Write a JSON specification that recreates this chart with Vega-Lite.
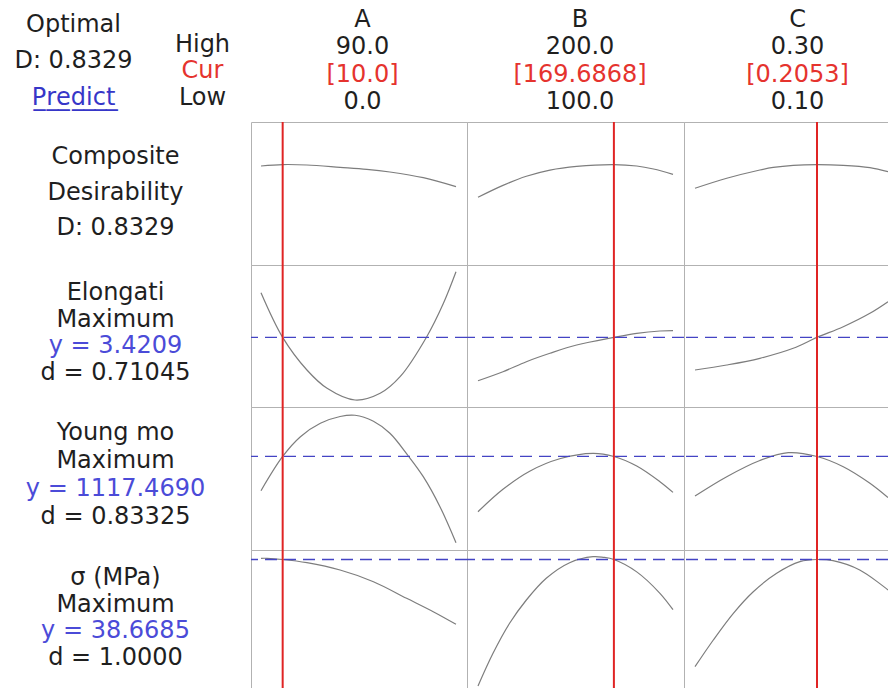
{
  "$schema": "https://vega.github.io/schema/vega-lite/v6.json",
  "padding": 0,
  "spacing": 0,
  "columns": 4,
  "bounds": "flush",
  "background": "white",
  "config": {
    "font": "DejaVu Sans",
    "view": {"stroke": "#b2b2b2", "strokeWidth": 1},
    "concat": {"spacing": 0},
    "text": {"font": "DejaVu Sans", "fontSize": 24, "baseline": "middle"},
    "line": {"color": "#7d7d7d", "strokeWidth": 1.2, "interpolate": "catmull-rom", "clip": true}
  },
  "datasets": {
    "header": [
      {"panel": "status", "line": 1, "text": "Optimal", "role": "label"},
      {"panel": "status", "line": 2, "text": "D: 0.8329", "role": "label"},
      {"panel": "status", "line": 3, "text": "P\u0332r\u0332e\u0332d\u0332i\u0332c\u0332t\u0332", "role": "link"},
      {"panel": "bounds", "line": 1, "text": "High", "role": "label"},
      {"panel": "bounds", "line": 2, "text": "Cur", "role": "current"},
      {"panel": "bounds", "line": 3, "text": "Low", "role": "label"},
      {"panel": "A", "line": 1, "text": "A", "role": "label"},
      {"panel": "A", "line": 2, "text": "90.0", "role": "label"},
      {"panel": "A", "line": 3, "text": "[10.0]", "role": "current"},
      {"panel": "A", "line": 4, "text": "0.0", "role": "label"},
      {"panel": "B", "line": 1, "text": "B", "role": "label"},
      {"panel": "B", "line": 2, "text": "200.0", "role": "label"},
      {"panel": "B", "line": 3, "text": "[169.6868]", "role": "current"},
      {"panel": "B", "line": 4, "text": "100.0", "role": "label"},
      {"panel": "C", "line": 1, "text": "C", "role": "label"},
      {"panel": "C", "line": 2, "text": "0.30", "role": "label"},
      {"panel": "C", "line": 3, "text": "[0.2053]", "role": "current"},
      {"panel": "C", "line": 4, "text": "0.10", "role": "label"}
    ],
    "labels": [
      {"response": "Composite", "line": 1, "text": "Composite", "role": "label"},
      {"response": "Composite", "line": 2, "text": "Desirability", "role": "label"},
      {"response": "Composite", "line": 3, "text": "D: 0.8329", "role": "label"},
      {"response": "Elongati", "line": 1, "text": "Elongati", "role": "label"},
      {"response": "Elongati", "line": 2, "text": "Maximum", "role": "label"},
      {"response": "Elongati", "line": 3, "text": "y = 3.4209", "role": "predicted"},
      {"response": "Elongati", "line": 4, "text": "d = 0.71045", "role": "label"},
      {"response": "Young mo", "line": 1, "text": "Young mo", "role": "label"},
      {"response": "Young mo", "line": 2, "text": "Maximum", "role": "label"},
      {"response": "Young mo", "line": 3, "text": "y = 1117.4690", "role": "predicted"},
      {"response": "Young mo", "line": 4, "text": "d = 0.83325", "role": "label"},
      {"response": "σ (MPa)", "line": 1, "text": "σ (MPa)", "role": "label"},
      {"response": "σ (MPa)", "line": 2, "text": "Maximum", "role": "label"},
      {"response": "σ (MPa)", "line": 3, "text": "y = 38.6685", "role": "predicted"},
      {"response": "σ (MPa)", "line": 4, "text": "d = 1.0000", "role": "label"}
    ],
    "settings": [
      {"factor": "A", "current": 10.0},
      {"factor": "B", "current": 169.6868},
      {"factor": "C", "current": 0.2053}
    ],
    "responses": [
      {"response": "Elongati", "optimum": 3.4209},
      {"response": "Young mo", "optimum": 1117.469},
      {"response": "σ (MPa)", "optimum": 38.6685}
    ],
    "curves": [
      {"response": "Composite", "factor": "A", "level": 0, "value": 0.8246},
      {"response": "Composite", "factor": "A", "level": 10, "value": 0.8329},
      {"response": "Composite", "factor": "A", "level": 21.2, "value": 0.8304},
      {"response": "Composite", "factor": "A", "level": 36.5, "value": 0.8171},
      {"response": "Composite", "factor": "A", "level": 48.8, "value": 0.8055},
      {"response": "Composite", "factor": "A", "level": 59.5, "value": 0.7898},
      {"response": "Composite", "factor": "A", "level": 74.9, "value": 0.7567},
      {"response": "Composite", "factor": "A", "level": 90, "value": 0.7045},
      {"response": "Composite", "factor": "B", "level": 100, "value": 0.643},
      {"response": "Composite", "factor": "B", "level": 112.8, "value": 0.712},
      {"response": "Composite", "factor": "B", "level": 124.8, "value": 0.765},
      {"response": "Composite", "factor": "B", "level": 136.9, "value": 0.801},
      {"response": "Composite", "factor": "B", "level": 150.6, "value": 0.8225},
      {"response": "Composite", "factor": "B", "level": 169.6868, "value": 0.8329},
      {"response": "Composite", "factor": "B", "level": 181.4, "value": 0.8246},
      {"response": "Composite", "factor": "B", "level": 190, "value": 0.807},
      {"response": "Composite", "factor": "B", "level": 200, "value": 0.7764},
      {"response": "Composite", "factor": "C", "level": 0.1, "value": 0.6952},
      {"response": "Composite", "factor": "C", "level": 0.1274, "value": 0.7533},
      {"response": "Composite", "factor": "C", "level": 0.156, "value": 0.8014},
      {"response": "Composite", "factor": "C", "level": 0.1675, "value": 0.8165},
      {"response": "Composite", "factor": "C", "level": 0.1848, "value": 0.8287},
      {"response": "Composite", "factor": "C", "level": 0.2053, "value": 0.8329},
      {"response": "Composite", "factor": "C", "level": 0.228, "value": 0.8287},
      {"response": "Composite", "factor": "C", "level": 0.251, "value": 0.815},
      {"response": "Composite", "factor": "C", "level": 0.2666, "value": 0.7916},
      {"response": "Elongati", "factor": "A", "level": 0, "value": 4.5375},
      {"response": "Elongati", "factor": "A", "level": 10, "value": 3.4209},
      {"response": "Elongati", "factor": "A", "level": 21.2, "value": 2.605},
      {"response": "Elongati", "factor": "A", "level": 30.5, "value": 2.1475},
      {"response": "Elongati", "factor": "A", "level": 43.4, "value": 1.855},
      {"response": "Elongati", "factor": "A", "level": 55, "value": 2.0225},
      {"response": "Elongati", "factor": "A", "level": 64.2, "value": 2.4375},
      {"response": "Elongati", "factor": "A", "level": 76.5, "value": 3.4375},
      {"response": "Elongati", "factor": "A", "level": 84.2, "value": 4.2725},
      {"response": "Elongati", "factor": "A", "level": 90, "value": 5.06},
      {"response": "Elongati", "factor": "B", "level": 100, "value": 2.3375},
      {"response": "Elongati", "factor": "B", "level": 112.8, "value": 2.5625},
      {"response": "Elongati", "factor": "B", "level": 124.8, "value": 2.8125},
      {"response": "Elongati", "factor": "B", "level": 136.9, "value": 3.0225},
      {"response": "Elongati", "factor": "B", "level": 150.6, "value": 3.23},
      {"response": "Elongati", "factor": "B", "level": 169.6868, "value": 3.4209},
      {"response": "Elongati", "factor": "B", "level": 181.4, "value": 3.5225},
      {"response": "Elongati", "factor": "B", "level": 193.3, "value": 3.58},
      {"response": "Elongati", "factor": "B", "level": 200, "value": 3.5875},
      {"response": "Elongati", "factor": "C", "level": 0.1, "value": 2.605},
      {"response": "Elongati", "factor": "C", "level": 0.1274, "value": 2.73},
      {"response": "Elongati", "factor": "C", "level": 0.156, "value": 2.8975},
      {"response": "Elongati", "factor": "C", "level": 0.1848, "value": 3.1475},
      {"response": "Elongati", "factor": "C", "level": 0.2053, "value": 3.4209},
      {"response": "Elongati", "factor": "C", "level": 0.228, "value": 3.6875},
      {"response": "Elongati", "factor": "C", "level": 0.251, "value": 4.0225},
      {"response": "Elongati", "factor": "C", "level": 0.2666, "value": 4.3125},
      {"response": "Young mo", "factor": "A", "level": 0, "value": 973.8},
      {"response": "Young mo", "factor": "A", "level": 10, "value": 1117.469},
      {"response": "Young mo", "factor": "A", "level": 18.2, "value": 1200.4},
      {"response": "Young mo", "factor": "A", "level": 27.4, "value": 1256.6},
      {"response": "Young mo", "factor": "A", "level": 36.5, "value": 1285.2},
      {"response": "Young mo", "factor": "A", "level": 43.4, "value": 1290.4},
      {"response": "Young mo", "factor": "A", "level": 51.9, "value": 1265.3},
      {"response": "Young mo", "factor": "A", "level": 59.5, "value": 1214.7},
      {"response": "Young mo", "factor": "A", "level": 68, "value": 1119.4},
      {"response": "Young mo", "factor": "A", "level": 74.9, "value": 1032.6},
      {"response": "Young mo", "factor": "A", "level": 82.6, "value": 906.7},
      {"response": "Young mo", "factor": "A", "level": 90, "value": 755.6},
      {"response": "Young mo", "factor": "B", "level": 100, "value": 885.7},
      {"response": "Young mo", "factor": "B", "level": 112.8, "value": 979.7},
      {"response": "Young mo", "factor": "B", "level": 126.5, "value": 1055.7},
      {"response": "Young mo", "factor": "B", "level": 141.9, "value": 1107.8},
      {"response": "Young mo", "factor": "B", "level": 159, "value": 1130.7},
      {"response": "Young mo", "factor": "B", "level": 169.6868, "value": 1117.469},
      {"response": "Young mo", "factor": "B", "level": 181.4, "value": 1077.4},
      {"response": "Young mo", "factor": "B", "level": 193.3, "value": 1011.6},
      {"response": "Young mo", "factor": "B", "level": 200, "value": 966.7},
      {"response": "Young mo", "factor": "C", "level": 0.1, "value": 951.6},
      {"response": "Young mo", "factor": "C", "level": 0.1274, "value": 1032.6},
      {"response": "Young mo", "factor": "C", "level": 0.156, "value": 1100.6},
      {"response": "Young mo", "factor": "C", "level": 0.1805, "value": 1133.3},
      {"response": "Young mo", "factor": "C", "level": 0.2053, "value": 1117.469},
      {"response": "Young mo", "factor": "C", "level": 0.228, "value": 1074.5},
      {"response": "Young mo", "factor": "C", "level": 0.251, "value": 1004.9},
      {"response": "Young mo", "factor": "C", "level": 0.2666, "value": 944.8},
      {"response": "σ (MPa)", "factor": "A", "level": 0, "value": 38.84},
      {"response": "σ (MPa)", "factor": "A", "level": 2.8, "value": 38.84},
      {"response": "σ (MPa)", "factor": "A", "level": 10, "value": 38.6685},
      {"response": "σ (MPa)", "factor": "A", "level": 21.2, "value": 38.224},
      {"response": "σ (MPa)", "factor": "A", "level": 36.5, "value": 37.203},
      {"response": "σ (MPa)", "factor": "A", "level": 51.9, "value": 35.566},
      {"response": "σ (MPa)", "factor": "A", "level": 67.2, "value": 33.245},
      {"response": "σ (MPa)", "factor": "A", "level": 79.5, "value": 31.371},
      {"response": "σ (MPa)", "factor": "A", "level": 90, "value": 29.608},
      {"response": "σ (MPa)", "factor": "B", "level": 100, "value": 20.979},
      {"response": "σ (MPa)", "factor": "B", "level": 107.7, "value": 25.552},
      {"response": "σ (MPa)", "factor": "B", "level": 116.2, "value": 29.748},
      {"response": "σ (MPa)", "factor": "B", "level": 124.8, "value": 33.007},
      {"response": "σ (MPa)", "factor": "B", "level": 135, "value": 36.042},
      {"response": "σ (MPa)", "factor": "B", "level": 147, "value": 38.224},
      {"response": "σ (MPa)", "factor": "B", "level": 159, "value": 39.063},
      {"response": "σ (MPa)", "factor": "B", "level": 164.2, "value": 38.979},
      {"response": "σ (MPa)", "factor": "B", "level": 169.6868, "value": 38.6685},
      {"response": "σ (MPa)", "factor": "B", "level": 181.4, "value": 36.941},
      {"response": "σ (MPa)", "factor": "B", "level": 193.3, "value": 33.944},
      {"response": "σ (MPa)", "factor": "B", "level": 200, "value": 31.647},
      {"response": "σ (MPa)", "factor": "C", "level": 0.1, "value": 23.678},
      {"response": "σ (MPa)", "factor": "C", "level": 0.1158, "value": 27.413},
      {"response": "σ (MPa)", "factor": "C", "level": 0.1331, "value": 31.147},
      {"response": "σ (MPa)", "factor": "C", "level": 0.1503, "value": 34.168},
      {"response": "σ (MPa)", "factor": "C", "level": 0.1705, "value": 36.741},
      {"response": "σ (MPa)", "factor": "C", "level": 0.1906, "value": 38.364},
      {"response": "σ (MPa)", "factor": "C", "level": 0.2053, "value": 38.6685},
      {"response": "σ (MPa)", "factor": "C", "level": 0.2191, "value": 38.503},
      {"response": "σ (MPa)", "factor": "C", "level": 0.2422, "value": 37.203},
      {"response": "σ (MPa)", "factor": "C", "level": 0.2666, "value": 34.406}
    ]
  },
  "resolve": {"scale": {"x": "independent", "y": "independent", "color": "independent"}},
  "concat": [
    {
      "width": 251, "height": 122, "view": {"stroke": null},
      "resolve": {"scale": {"y": "independent"}},
      "layer": [
        {
          "data": {"name": "header"},
          "transform": [{"filter": "datum.panel === 'status'"}],
          "mark": {"type": "text", "dx": -52},
          "encoding": {
            "y": {"field": "line", "type": "quantitative", "scale": {"domain": [0.315, 3.658], "reverse": true, "nice": false, "zero": false}, "axis": null},
            "text": {"field": "text"},
            "color": {"field": "role", "type": "nominal", "scale": {"domain": ["label", "current", "predicted", "link"], "range": ["#1f1f1f", "#e5332e", "#4b4bd8", "#3636c8"]}, "legend": null}
          }
        },
        {
          "data": {"name": "header"},
          "transform": [{"filter": "datum.panel === 'bounds'"}],
          "mark": {"type": "text", "dx": 77},
          "encoding": {
            "y": {"field": "line", "type": "quantitative", "scale": {"domain": [-0.698, 3.906], "reverse": true, "nice": false, "zero": false}, "axis": null},
            "text": {"field": "text"},
            "color": {"field": "role", "type": "nominal", "scale": {"domain": ["label", "current", "predicted", "link"], "range": ["#1f1f1f", "#e5332e", "#4b4bd8", "#3636c8"]}, "legend": null}
          }
        }
      ]
    },
    {
      "width": 216, "height": 122, "view": {"stroke": null},
      "data": {"name": "header"},
      "transform": [{"filter": "datum.panel === 'A'"}],
      "mark": {"type": "text", "dx": 3.5},
      "encoding": {
        "y": {"field": "line", "type": "quantitative", "scale": {"domain": [0.268, 4.732], "reverse": true, "nice": false, "zero": false}, "axis": null},
        "text": {"field": "text"},
        "color": {"field": "role", "type": "nominal", "scale": {"domain": ["label", "current", "predicted", "link"], "range": ["#1f1f1f", "#e5332e", "#4b4bd8", "#3636c8"]}, "legend": null}
      }
    },
    {
      "width": 217, "height": 122, "view": {"stroke": null},
      "data": {"name": "header"},
      "transform": [{"filter": "datum.panel === 'B'"}],
      "mark": {"type": "text", "dx": 4.5},
      "encoding": {
        "y": {"field": "line", "type": "quantitative", "scale": {"domain": [0.268, 4.732], "reverse": true, "nice": false, "zero": false}, "axis": null},
        "text": {"field": "text"},
        "color": {"field": "role", "type": "nominal", "scale": {"domain": ["label", "current", "predicted", "link"], "range": ["#1f1f1f", "#e5332e", "#4b4bd8", "#3636c8"]}, "legend": null}
      }
    },
    {
      "width": 204, "height": 122, "view": {"stroke": null},
      "data": {"name": "header"},
      "transform": [{"filter": "datum.panel === 'C'"}],
      "mark": {"type": "text", "dx": 11.5},
      "encoding": {
        "y": {"field": "line", "type": "quantitative", "scale": {"domain": [0.268, 4.732], "reverse": true, "nice": false, "zero": false}, "axis": null},
        "text": {"field": "text"},
        "color": {"field": "role", "type": "nominal", "scale": {"domain": ["label", "current", "predicted", "link"], "range": ["#1f1f1f", "#e5332e", "#4b4bd8", "#3636c8"]}, "legend": null}
      }
    },
    {
      "width": 251, "height": 143, "view": {"stroke": null},
      "data": {"name": "labels"},
      "transform": [{"filter": "datum.response === 'Composite'"}],
      "mark": {"type": "text", "dx": -10},
      "encoding": {
        "y": {"field": "line", "type": "quantitative", "scale": {"domain": [0.014, 4.042], "reverse": true, "nice": false, "zero": false}, "axis": null},
        "text": {"field": "text"},
        "color": {"field": "role", "type": "nominal", "scale": {"domain": ["label", "current", "predicted", "link"], "range": ["#1f1f1f", "#e5332e", "#4b4bd8", "#3636c8"]}, "legend": null}
      }
    },
    {
      "width": 216, "height": 143,
      "layer": [
        {
          "data": {"name": "curves"},
          "transform": [{"filter": "datum.response === 'Composite' && datum.factor === 'A'"}],
          "mark": {"type": "line"},
          "encoding": {
            "x": {"field": "level", "type": "quantitative", "scale": {"domain": [-4.615, 95.08], "nice": false, "zero": false}, "axis": null},
            "y": {"field": "value", "type": "quantitative", "scale": {"domain": [0.25, 1.08], "nice": false, "zero": false}, "axis": null}
          }
        },
        {
          "data": {"name": "settings"},
          "transform": [{"filter": "datum.factor === 'A'"}],
          "mark": {"type": "rule", "color": "#e02424", "strokeWidth": 2},
          "encoding": {"x": {"field": "current", "type": "quantitative"}}
        }
      ]
    },
    {
      "width": 217, "height": 143,
      "layer": [
        {
          "data": {"name": "curves"},
          "transform": [{"filter": "datum.response === 'Composite' && datum.factor === 'B'"}],
          "mark": {"type": "line"},
          "encoding": {
            "x": {"field": "level", "type": "quantitative", "scale": {"domain": [94.36, 205.64], "nice": false, "zero": false}, "axis": null},
            "y": {"field": "value", "type": "quantitative", "scale": {"domain": [0.25, 1.08], "nice": false, "zero": false}, "axis": null}
          }
        },
        {
          "data": {"name": "settings"},
          "transform": [{"filter": "datum.factor === 'B'"}],
          "mark": {"type": "rule", "color": "#e02424", "strokeWidth": 2},
          "encoding": {"x": {"field": "current", "type": "quantitative"}}
        }
      ]
    },
    {
      "width": 204, "height": 143,
      "layer": [
        {
          "data": {"name": "curves"},
          "transform": [{"filter": "datum.response === 'Composite' && datum.factor === 'C'"}],
          "mark": {"type": "line"},
          "encoding": {
            "x": {"field": "level", "type": "quantitative", "scale": {"domain": [0.0905, 0.2666], "nice": false, "zero": false}, "axis": null},
            "y": {"field": "value", "type": "quantitative", "scale": {"domain": [0.25, 1.08], "nice": false, "zero": false}, "axis": null}
          }
        },
        {
          "data": {"name": "settings"},
          "transform": [{"filter": "datum.factor === 'C'"}],
          "mark": {"type": "rule", "color": "#e02424", "strokeWidth": 2},
          "encoding": {"x": {"field": "current", "type": "quantitative"}}
        }
      ]
    },
    {
      "width": 251, "height": 142, "view": {"stroke": null},
      "data": {"name": "labels"},
      "transform": [{"filter": "datum.response === 'Elongati'"}],
      "mark": {"type": "text", "dx": -10},
      "encoding": {
        "y": {"field": "line", "type": "quantitative", "scale": {"domain": [-0.049, 5.269], "reverse": true, "nice": false, "zero": false}, "axis": null},
        "text": {"field": "text"},
        "color": {"field": "role", "type": "nominal", "scale": {"domain": ["label", "current", "predicted", "link"], "range": ["#1f1f1f", "#e5332e", "#4b4bd8", "#3636c8"]}, "legend": null}
      }
    },
    {
      "width": 216, "height": 142,
      "layer": [
        {
          "data": {"name": "curves"},
          "transform": [{"filter": "datum.response === 'Elongati' && datum.factor === 'A'"}],
          "mark": {"type": "line"},
          "encoding": {
            "x": {"field": "level", "type": "quantitative", "scale": {"domain": [-4.615, 95.08], "nice": false, "zero": false}, "axis": null},
            "y": {"field": "value", "type": "quantitative", "scale": {"domain": [1.68, 5.23], "nice": false, "zero": false}, "axis": null}
          }
        },
        {
          "data": {"name": "responses"},
          "transform": [{"filter": "datum.response === 'Elongati'"}],
          "mark": {"type": "rule", "color": "#4444c4", "strokeWidth": 1.3, "strokeDash": [12, 7]},
          "encoding": {"y": {"field": "optimum", "type": "quantitative"}}
        },
        {
          "data": {"name": "settings"},
          "transform": [{"filter": "datum.factor === 'A'"}],
          "mark": {"type": "rule", "color": "#e02424", "strokeWidth": 2},
          "encoding": {"x": {"field": "current", "type": "quantitative"}}
        }
      ]
    },
    {
      "width": 217, "height": 142,
      "layer": [
        {
          "data": {"name": "curves"},
          "transform": [{"filter": "datum.response === 'Elongati' && datum.factor === 'B'"}],
          "mark": {"type": "line"},
          "encoding": {
            "x": {"field": "level", "type": "quantitative", "scale": {"domain": [94.36, 205.64], "nice": false, "zero": false}, "axis": null},
            "y": {"field": "value", "type": "quantitative", "scale": {"domain": [1.68, 5.23], "nice": false, "zero": false}, "axis": null}
          }
        },
        {
          "data": {"name": "responses"},
          "transform": [{"filter": "datum.response === 'Elongati'"}],
          "mark": {"type": "rule", "color": "#4444c4", "strokeWidth": 1.3, "strokeDash": [12, 7]},
          "encoding": {"y": {"field": "optimum", "type": "quantitative"}}
        },
        {
          "data": {"name": "settings"},
          "transform": [{"filter": "datum.factor === 'B'"}],
          "mark": {"type": "rule", "color": "#e02424", "strokeWidth": 2},
          "encoding": {"x": {"field": "current", "type": "quantitative"}}
        }
      ]
    },
    {
      "width": 204, "height": 142,
      "layer": [
        {
          "data": {"name": "curves"},
          "transform": [{"filter": "datum.response === 'Elongati' && datum.factor === 'C'"}],
          "mark": {"type": "line"},
          "encoding": {
            "x": {"field": "level", "type": "quantitative", "scale": {"domain": [0.0905, 0.2666], "nice": false, "zero": false}, "axis": null},
            "y": {"field": "value", "type": "quantitative", "scale": {"domain": [1.68, 5.23], "nice": false, "zero": false}, "axis": null}
          }
        },
        {
          "data": {"name": "responses"},
          "transform": [{"filter": "datum.response === 'Elongati'"}],
          "mark": {"type": "rule", "color": "#4444c4", "strokeWidth": 1.3, "strokeDash": [12, 7]},
          "encoding": {"y": {"field": "optimum", "type": "quantitative"}}
        },
        {
          "data": {"name": "settings"},
          "transform": [{"filter": "datum.factor === 'C'"}],
          "mark": {"type": "rule", "color": "#e02424", "strokeWidth": 2},
          "encoding": {"x": {"field": "current", "type": "quantitative"}}
        }
      ]
    },
    {
      "width": 251, "height": 143, "view": {"stroke": null},
      "data": {"name": "labels"},
      "transform": [{"filter": "datum.response === 'Young mo'"}],
      "mark": {"type": "text", "dx": -10},
      "encoding": {
        "y": {"field": "line", "type": "quantitative", "scale": {"domain": [0.071, 5.178], "reverse": true, "nice": false, "zero": false}, "axis": null},
        "text": {"field": "text"},
        "color": {"field": "role", "type": "nominal", "scale": {"domain": ["label", "current", "predicted", "link"], "range": ["#1f1f1f", "#e5332e", "#4b4bd8", "#3636c8"]}, "legend": null}
      }
    },
    {
      "width": 216, "height": 143,
      "layer": [
        {
          "data": {"name": "curves"},
          "transform": [{"filter": "datum.response === 'Young mo' && datum.factor === 'A'"}],
          "mark": {"type": "line"},
          "encoding": {
            "x": {"field": "level", "type": "quantitative", "scale": {"domain": [-4.615, 95.08], "nice": false, "zero": false}, "axis": null},
            "y": {"field": "value", "type": "quantitative", "scale": {"domain": [725, 1325], "nice": false, "zero": false}, "axis": null}
          }
        },
        {
          "data": {"name": "responses"},
          "transform": [{"filter": "datum.response === 'Young mo'"}],
          "mark": {"type": "rule", "color": "#4444c4", "strokeWidth": 1.3, "strokeDash": [12, 7]},
          "encoding": {"y": {"field": "optimum", "type": "quantitative"}}
        },
        {
          "data": {"name": "settings"},
          "transform": [{"filter": "datum.factor === 'A'"}],
          "mark": {"type": "rule", "color": "#e02424", "strokeWidth": 2},
          "encoding": {"x": {"field": "current", "type": "quantitative"}}
        }
      ]
    },
    {
      "width": 217, "height": 143,
      "layer": [
        {
          "data": {"name": "curves"},
          "transform": [{"filter": "datum.response === 'Young mo' && datum.factor === 'B'"}],
          "mark": {"type": "line"},
          "encoding": {
            "x": {"field": "level", "type": "quantitative", "scale": {"domain": [94.36, 205.64], "nice": false, "zero": false}, "axis": null},
            "y": {"field": "value", "type": "quantitative", "scale": {"domain": [725, 1325], "nice": false, "zero": false}, "axis": null}
          }
        },
        {
          "data": {"name": "responses"},
          "transform": [{"filter": "datum.response === 'Young mo'"}],
          "mark": {"type": "rule", "color": "#4444c4", "strokeWidth": 1.3, "strokeDash": [12, 7]},
          "encoding": {"y": {"field": "optimum", "type": "quantitative"}}
        },
        {
          "data": {"name": "settings"},
          "transform": [{"filter": "datum.factor === 'B'"}],
          "mark": {"type": "rule", "color": "#e02424", "strokeWidth": 2},
          "encoding": {"x": {"field": "current", "type": "quantitative"}}
        }
      ]
    },
    {
      "width": 204, "height": 143,
      "layer": [
        {
          "data": {"name": "curves"},
          "transform": [{"filter": "datum.response === 'Young mo' && datum.factor === 'C'"}],
          "mark": {"type": "line"},
          "encoding": {
            "x": {"field": "level", "type": "quantitative", "scale": {"domain": [0.0905, 0.2666], "nice": false, "zero": false}, "axis": null},
            "y": {"field": "value", "type": "quantitative", "scale": {"domain": [725, 1325], "nice": false, "zero": false}, "axis": null}
          }
        },
        {
          "data": {"name": "responses"},
          "transform": [{"filter": "datum.response === 'Young mo'"}],
          "mark": {"type": "rule", "color": "#4444c4", "strokeWidth": 1.3, "strokeDash": [12, 7]},
          "encoding": {"y": {"field": "optimum", "type": "quantitative"}}
        },
        {
          "data": {"name": "settings"},
          "transform": [{"filter": "datum.factor === 'C'"}],
          "mark": {"type": "rule", "color": "#e02424", "strokeWidth": 2},
          "encoding": {"x": {"field": "current", "type": "quantitative"}}
        }
      ]
    },
    {
      "width": 251, "height": 138, "view": {"stroke": null},
      "data": {"name": "labels"},
      "transform": [{"filter": "datum.response === 'σ (MPa)'"}],
      "mark": {"type": "text", "dx": -10},
      "encoding": {
        "y": {"field": "line", "type": "quantitative", "scale": {"domain": [-0.049, 5.119], "reverse": true, "nice": false, "zero": false}, "axis": null},
        "text": {"field": "text"},
        "color": {"field": "role", "type": "nominal", "scale": {"domain": ["label", "current", "predicted", "link"], "range": ["#1f1f1f", "#e5332e", "#4b4bd8", "#3636c8"]}, "legend": null}
      }
    },
    {
      "width": 216, "height": 138,
      "layer": [
        {
          "data": {"name": "curves"},
          "transform": [{"filter": "datum.response === 'σ (MPa)' && datum.factor === 'A'"}],
          "mark": {"type": "line"},
          "encoding": {
            "x": {"field": "level", "type": "quantitative", "scale": {"domain": [-4.615, 95.08], "nice": false, "zero": false}, "axis": null},
            "y": {"field": "value", "type": "quantitative", "scale": {"domain": [20.7, 40], "nice": false, "zero": false}, "axis": null}
          }
        },
        {
          "data": {"name": "responses"},
          "transform": [{"filter": "datum.response === 'σ (MPa)'"}],
          "mark": {"type": "rule", "color": "#4444c4", "strokeWidth": 1.3, "strokeDash": [12, 7]},
          "encoding": {"y": {"field": "optimum", "type": "quantitative"}}
        },
        {
          "data": {"name": "settings"},
          "transform": [{"filter": "datum.factor === 'A'"}],
          "mark": {"type": "rule", "color": "#e02424", "strokeWidth": 2},
          "encoding": {"x": {"field": "current", "type": "quantitative"}}
        }
      ]
    },
    {
      "width": 217, "height": 138,
      "layer": [
        {
          "data": {"name": "curves"},
          "transform": [{"filter": "datum.response === 'σ (MPa)' && datum.factor === 'B'"}],
          "mark": {"type": "line"},
          "encoding": {
            "x": {"field": "level", "type": "quantitative", "scale": {"domain": [94.36, 205.64], "nice": false, "zero": false}, "axis": null},
            "y": {"field": "value", "type": "quantitative", "scale": {"domain": [20.7, 40], "nice": false, "zero": false}, "axis": null}
          }
        },
        {
          "data": {"name": "responses"},
          "transform": [{"filter": "datum.response === 'σ (MPa)'"}],
          "mark": {"type": "rule", "color": "#4444c4", "strokeWidth": 1.3, "strokeDash": [12, 7]},
          "encoding": {"y": {"field": "optimum", "type": "quantitative"}}
        },
        {
          "data": {"name": "settings"},
          "transform": [{"filter": "datum.factor === 'B'"}],
          "mark": {"type": "rule", "color": "#e02424", "strokeWidth": 2},
          "encoding": {"x": {"field": "current", "type": "quantitative"}}
        }
      ]
    },
    {
      "width": 204, "height": 138,
      "layer": [
        {
          "data": {"name": "curves"},
          "transform": [{"filter": "datum.response === 'σ (MPa)' && datum.factor === 'C'"}],
          "mark": {"type": "line"},
          "encoding": {
            "x": {"field": "level", "type": "quantitative", "scale": {"domain": [0.0905, 0.2666], "nice": false, "zero": false}, "axis": null},
            "y": {"field": "value", "type": "quantitative", "scale": {"domain": [20.7, 40], "nice": false, "zero": false}, "axis": null}
          }
        },
        {
          "data": {"name": "responses"},
          "transform": [{"filter": "datum.response === 'σ (MPa)'"}],
          "mark": {"type": "rule", "color": "#4444c4", "strokeWidth": 1.3, "strokeDash": [12, 7]},
          "encoding": {"y": {"field": "optimum", "type": "quantitative"}}
        },
        {
          "data": {"name": "settings"},
          "transform": [{"filter": "datum.factor === 'C'"}],
          "mark": {"type": "rule", "color": "#e02424", "strokeWidth": 2},
          "encoding": {"x": {"field": "current", "type": "quantitative"}}
        }
      ]
    }
  ]
}
